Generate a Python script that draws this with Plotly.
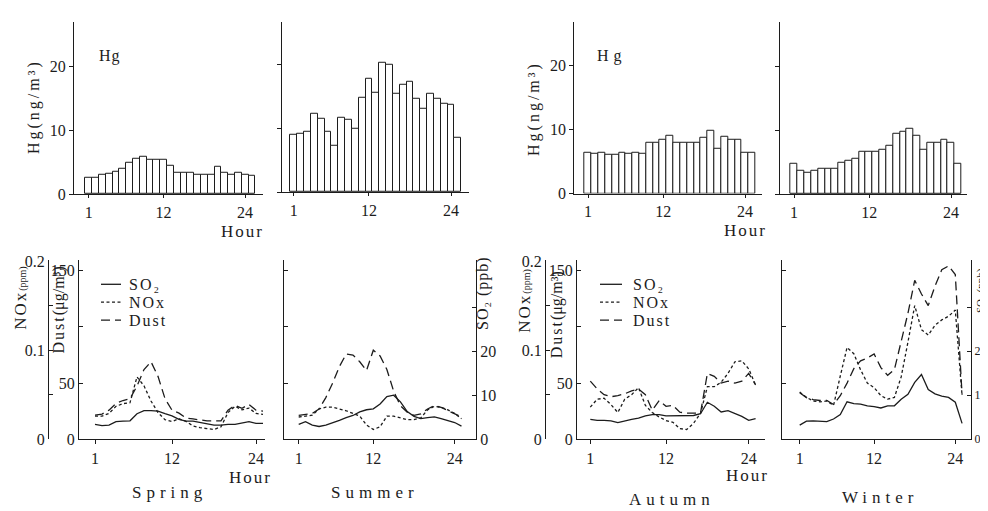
import plotly.graph_objects as go

W, H = 988, 511

hours = list(range(1, 26))
hour_ticks = [1, 12, 24]
hg_ticks = [0, 10, 20]

# Hg (ng/m3) hourly bars
hg_spring = [2.5, 2.6, 3.0, 3.2, 3.5, 4.0, 4.9, 5.6, 5.8, 5.4, 5.4, 5.4, 4.4,
             3.4, 3.4, 3.4, 3.0, 3.0, 3.0, 4.3, 3.4, 3.0, 3.3, 3.1, 2.9]
hg_summer = [9.0, 9.2, 9.5, 12.3, 11.5, 9.4, 7.2, 11.7, 11.4, 10.0, 14.8, 17.8, 15.5,
             20.3, 19.9, 15.4, 16.8, 17.3, 14.7, 13.0, 15.4, 14.7, 13.8, 13.7, 8.6]
hg_autumn = [6.4, 6.2, 6.4, 6.1, 6.0, 6.3, 6.2, 6.4, 6.2, 8.0, 8.0, 8.4, 9.0,
             7.9, 7.9, 7.9, 7.9, 8.7, 9.8, 7.0, 8.9, 8.4, 8.4, 6.4, 6.4]
hg_winter = [4.7, 3.7, 3.4, 3.7, 3.9, 3.9, 4.0, 4.9, 5.3, 5.6, 6.6, 6.6, 6.6,
             6.9, 7.6, 9.4, 9.7, 10.3, 9.1, 7.0, 8.0, 8.0, 8.5, 8.0, 4.7]

# SO2 (ppb)
so2_spring = [3.4, 3.1, 3.2, 4.0, 4.1, 4.2, 5.8, 6.5, 6.5, 6.4, 5.8, 5.3, 4.5,
              4.1, 4.1, 3.8, 3.6, 3.2, 3.2, 3.4, 3.4, 3.7, 4.0, 3.6, 3.6]
so2_summer = [3.4, 4.0, 3.2, 2.9, 3.2, 3.7, 4.3, 4.9, 5.4, 6.2, 6.7, 6.9, 8.0,
              9.7, 10.0, 8.5, 6.3, 5.2, 4.7, 4.9, 5.1, 4.7, 4.3, 3.8, 3.0]
so2_autumn = [4.5, 4.3, 4.3, 4.2, 3.8, 4.2, 4.5, 4.8, 5.3, 5.6, 5.6, 5.3, 5.3,
              5.3, 5.3, 5.4, 5.8, 8.4, 7.5, 6.2, 6.5, 5.9, 5.2, 4.3, 4.7]
so2_winter = [3.2, 4.1, 4.2, 4.1, 4.0, 4.6, 5.6, 8.5, 8.1, 8.0, 7.6, 7.4, 7.1,
              7.6, 7.6, 9.1, 10.2, 12.9, 14.7, 11.3, 10.3, 9.8, 9.5, 8.4, 3.6]

# NOx (ppm)
nox_spring = [0.026, 0.026, 0.029, 0.037, 0.040, 0.041, 0.070, 0.060, 0.043, 0.030, 0.022, 0.020, 0.023,
              0.020, 0.015, 0.013, 0.012, 0.011, 0.014, 0.030, 0.037, 0.033, 0.035, 0.029, 0.028]
nox_summer = [0.025, 0.026, 0.027, 0.034, 0.036, 0.036, 0.034, 0.032, 0.029, 0.026, 0.016, 0.011, 0.014,
              0.026, 0.026, 0.024, 0.022, 0.022, 0.024, 0.033, 0.037, 0.036, 0.033, 0.029, 0.023]
nox_autumn = [0.036, 0.045, 0.046, 0.039, 0.030, 0.045, 0.050, 0.058, 0.038, 0.030, 0.025, 0.021, 0.019,
              0.012, 0.011, 0.018, 0.029, 0.059, 0.059, 0.064, 0.074, 0.087, 0.088, 0.079, 0.061]
nox_winter = [0.053, 0.047, 0.043, 0.042, 0.043, 0.038, 0.071, 0.103, 0.096, 0.078, 0.063, 0.058, 0.049,
              0.045, 0.047, 0.070, 0.109, 0.150, 0.123, 0.117, 0.128, 0.134, 0.138, 0.145, 0.049]

# Dust (ug/m3)
dust_spring = [21.5, 22.4, 25.9, 31.9, 34.5, 36.2, 47.4, 62.1, 69.0, 56.0, 36.2, 25.9, 23.3,
               19.0, 18.1, 17.2, 16.4, 16.4, 16.4, 25.9, 30.2, 27.6, 31.0, 25.9, 25.0]
dust_summer = [21.3, 22.2, 23.0, 27.0, 37.1, 50.0, 64.7, 75.9, 75.0, 69.0, 61.2, 79.3, 74.1,
               62.1, 42.8, 29.9, 24.1, 21.3, 22.7, 27.0, 29.9, 28.4, 25.6, 22.7, 19.8]
dust_autumn = [51.7, 44.8, 39.7, 37.9, 38.8, 40.5, 43.1, 44.8, 39.7, 25.9, 34.5, 29.3, 30.2,
               24.1, 23.3, 23.3, 23.3, 58.6, 56.0, 50.0, 51.7, 50.0, 51.7, 58.6, 48.3]
dust_winter = [41.4, 37.1, 35.3, 34.5, 34.5, 31.0, 38.8, 50.0, 62.9, 69.8, 72.4, 75.9, 63.8,
               56.9, 62.1, 86.2, 112.1, 141.4, 129.3, 119.0, 136.2, 150.9, 154.3, 146.6, 39.7]

seasons = ["Spring", "Summer", "Autumn", "Winter"]

FONT = "Liberation Serif"
INK = "#1c1c1c"


def fx(p):
    return p / W


def fy(p):
    return 1 - p / H


def spaced(text, px):
    return f"<span style='letter-spacing:{px}px'>{text}</span>"


fig = go.Figure()
layout = {}

# ---------------- top panels (Hg bars) ----------------
hg_all = [hg_spring, hg_summer, hg_autumn, hg_winter]
# bar left edge, bar right edge, axis left, axis right, baseline, top (pixels)
top_geom = [
    (77.3, 247.3, 66, 255, 185, 7),
    (282.3, 453.3, 274, 461, 183, 7),
    (576.7, 747.3, 566.3, 754, 184.3, 7),
    (782.7, 953.3, 772.3, 959, 185, 7),
]
for i, vals in enumerate(hg_all):
    n = i + 1
    L, R, A0, A1, B, T = top_geom[i]
    ppu = (R - L) / len(vals)
    xr = [0.5 - (L - A0) / ppu, len(vals) + 0.5 + (A1 - R) / ppu]
    ys = 6.6
    fig.add_trace(go.Bar(
        x=hours, y=vals, width=1,
        marker=dict(color="white", line=dict(color=INK, width=1)),
        xaxis=f"x{n}", yaxis=f"y{n}", showlegend=False))
    layout[f"xaxis{n}"] = dict(
        domain=[fx(A0), fx(A1)], range=xr, anchor=f"y{n}",
        showline=True, linecolor=INK, linewidth=1.3, ticks="outside", ticklen=3,
        tickcolor=INK, tickvals=hour_ticks, showgrid=False, zeroline=False,
        tickfont=dict(family=FONT, size=16, color=INK))
    layout[f"yaxis{n}"] = dict(
        domain=[fy(B), fy(T)], range=[0, (B - T) / ys], anchor=f"x{n}",
        showline=True, linecolor=INK, linewidth=1.3, ticks="outside", ticklen=4,
        tickcolor=INK, tickvals=hg_ticks, showticklabels=(i in (0, 2)),
        showgrid=False, zeroline=False,
        tickfont=dict(family=FONT, size=16, color=INK))

# ---------------- bottom panels (SO2 / NOx / Dust lines) ----------------
so2_all = [so2_spring, so2_summer, so2_autumn, so2_winter]
nox_all = [nox_spring, nox_summer, nox_autumn, nox_winter]
dust_all = [dust_spring, dust_summer, dust_autumn, dust_winter]
# tick-1 px, tick-24 px, axis left, axis right, NOx axis px (None = hidden)
bot_geom = [
    (87, 248, 71, 257, 40),
    (290.7, 446.7, 276, 468, None),
    (582.3, 740.7, 569, 757, 537),
    (791.7, 947.3, 774, 963, None),
]
BB, BT = 438, 253
dust_ppx = 1.16
nox_ppx = 920.0
so2_ppx = 4.55

DASH_NOX = "3px,2.5px"
DASH_DUST = "9px,5px"

for i in range(4):
    xn = 5 + i
    yd, yn, ys_ = 5 + 3 * i, 6 + 3 * i, 7 + 3 * i
    P1, P24, A0, A1, NX = bot_geom[i]
    ppu = (P24 - P1) / 23
    xr = [1 - (P1 - A0) / ppu, 24 + (A1 - P24) / ppu]
    fig.add_trace(go.Scatter(x=hours, y=so2_all[i], mode="lines",
                             line=dict(color=INK, width=1.3),
                             xaxis=f"x{xn}", yaxis=f"y{ys_}", showlegend=False))
    fig.add_trace(go.Scatter(x=hours, y=nox_all[i], mode="lines",
                             line=dict(color=INK, width=1.3, dash=DASH_NOX),
                             xaxis=f"x{xn}", yaxis=f"y{yn}", showlegend=False))
    fig.add_trace(go.Scatter(x=hours, y=dust_all[i], mode="lines",
                             line=dict(color=INK, width=1.3, dash=DASH_DUST),
                             xaxis=f"x{xn}", yaxis=f"y{yd}", showlegend=False))
    labelled_left = i in (0, 2)
    layout[f"xaxis{xn}"] = dict(
        domain=[fx(A0), fx(A1)], range=xr, anchor=f"y{yd}",
        showline=True, linecolor=INK, linewidth=1.3, ticks="outside", ticklen=4,
        tickcolor=INK, tickvals=hour_ticks, showgrid=False, zeroline=False,
        tickfont=dict(family=FONT, size=16, color=INK))
    layout[f"yaxis{yd}"] = dict(
        domain=[fy(BB), fy(BT)], range=[0, (BB - BT) / dust_ppx], anchor=f"x{xn}",
        showline=True, linecolor=INK, linewidth=1.3, ticks="inside", ticklen=4,
        tickcolor=INK, tickvals=[0, 50, 100, 150],
        ticktext=["0", "50", "", "150"] if labelled_left else ["", "", "", ""],
        showgrid=False, zeroline=False,
        tickfont=dict(family=FONT, size=16, color=INK))
    if NX is not None:
        layout[f"yaxis{yn}"] = dict(
            overlaying=f"y{yd}", range=[0, (BB - BT) / nox_ppx], anchor="free",
            position=fx(NX), showline=True, linecolor=INK, linewidth=1.3,
            ticks="inside", ticklen=4, tickcolor=INK,
            tickvals=[0, 0.05, 0.1, 0.15, 0.2], ticktext=["0", "", "0.1", "", "0.2"],
            showgrid=False, zeroline=False,
            tickfont=dict(family=FONT, size=16, color=INK))
        layout[f"yaxis{ys_}"] = dict(
            overlaying=f"y{yd}", range=[0, (BB - BT) / so2_ppx], anchor=f"x{xn}",
            side="right", visible=False)
    else:
        layout[f"yaxis{yn}"] = dict(
            overlaying=f"y{yd}", range=[0, (BB - BT) / nox_ppx], anchor=f"x{xn}",
            visible=False)
        layout[f"yaxis{ys_}"] = dict(
            overlaying=f"y{yd}", range=[0, (BB - BT) / so2_ppx], anchor=f"x{xn}",
            side="right", showline=True, linecolor=INK, linewidth=1.3,
            ticks="inside", ticklen=4, tickcolor=INK, ticklabeloverflow="allow",
            tickvals=[0, 10, 20, 30], ticktext=["0", "10", "20", ""],
            showgrid=False, zeroline=False,
            tickfont=dict(family=FONT, size=16 if i == 1 else 12, color=INK))

annotations = []


def note(text, x, y, size=16, angle=0, anchor="center"):
    annotations.append(dict(text=text, x=fx(x), y=fy(y), xref="paper", yref="paper",
                            showarrow=False, textangle=angle, xanchor=anchor,
                            yanchor="middle",
                            font=dict(family=FONT, size=size, color=INK)))


# top panel texts
note(spaced("Hg", 1), 102, 42, 16)
note(spaced("Hg", 5), 604, 42, 16)
note(spaced("Hg(ng/m³)", 3), 26, 95, 16, -90)
note(spaced("Hg(ng/m³)", 3), 526, 97, 16, -90)
note(spaced("Hour", 2), 234, 223, 17)
note(spaced("Hour", 2), 737, 222, 17)

# bottom panel texts
note(spaced("NOx", 2) + "<span style='font-size:10px'>(ppm)</span>", 13, 292, 17, -90)
note(spaced("Dust", 2) + "(μg/m³)", 51, 305, 16, -90)
note(spaced("NOx", 2) + "<span style='font-size:10px'>(ppm)</span>", 517, 295, 17, -90)
note(spaced("Dust", 2) + "(μg/m³)", 549, 310, 16, -90)
note(spaced("SO₂ (ppb)", 1), 475, 287, 16, -90)
note("SO₂ (ppb)", 972, 285, 11, -90)
note(spaced("Hour", 2), 242, 477, 17)
note(spaced("Hour", 2), 739, 475, 17)

season_pos = [(161, 493), (367, 493), (664, 500), (872, 498)]
for name, (sx, sy) in zip(seasons, season_pos):
    note(spaced(name, 5), sx, sy, 17)

# legends (spring and autumn panels)
legend_names = ["SO₂", "NOx", "Dust"]
legend_dash = ["solid", DASH_NOX, DASH_DUST]
shapes = []
for (lx0, lx1, tx, ly0) in [(93, 113, 119, 278), (592, 614, 623, 278)]:
    for k, (nm, ds) in enumerate(zip(legend_names, legend_dash)):
        yy = ly0 + k * 18.5
        shapes.append(dict(type="line", xref="paper", yref="paper",
                           x0=fx(lx0), x1=fx(lx1), y0=fy(yy), y1=fy(yy),
                           line=dict(color=INK, width=1.3, dash=ds)))
        annotations.append(dict(text=spaced(nm, 2), x=fx(tx), y=fy(yy), xref="paper",
                                yref="paper", showarrow=False, xanchor="left",
                                yanchor="middle",
                                font=dict(family=FONT, size=16, color=INK)))

fig.update_layout(
    width=W, height=H,
    margin=dict(l=0, r=0, t=0, b=0),
    paper_bgcolor="white", plot_bgcolor="white",
    bargap=0, showlegend=False,
    annotations=annotations, shapes=shapes,
    **layout)

fig.write_html("out.html")
